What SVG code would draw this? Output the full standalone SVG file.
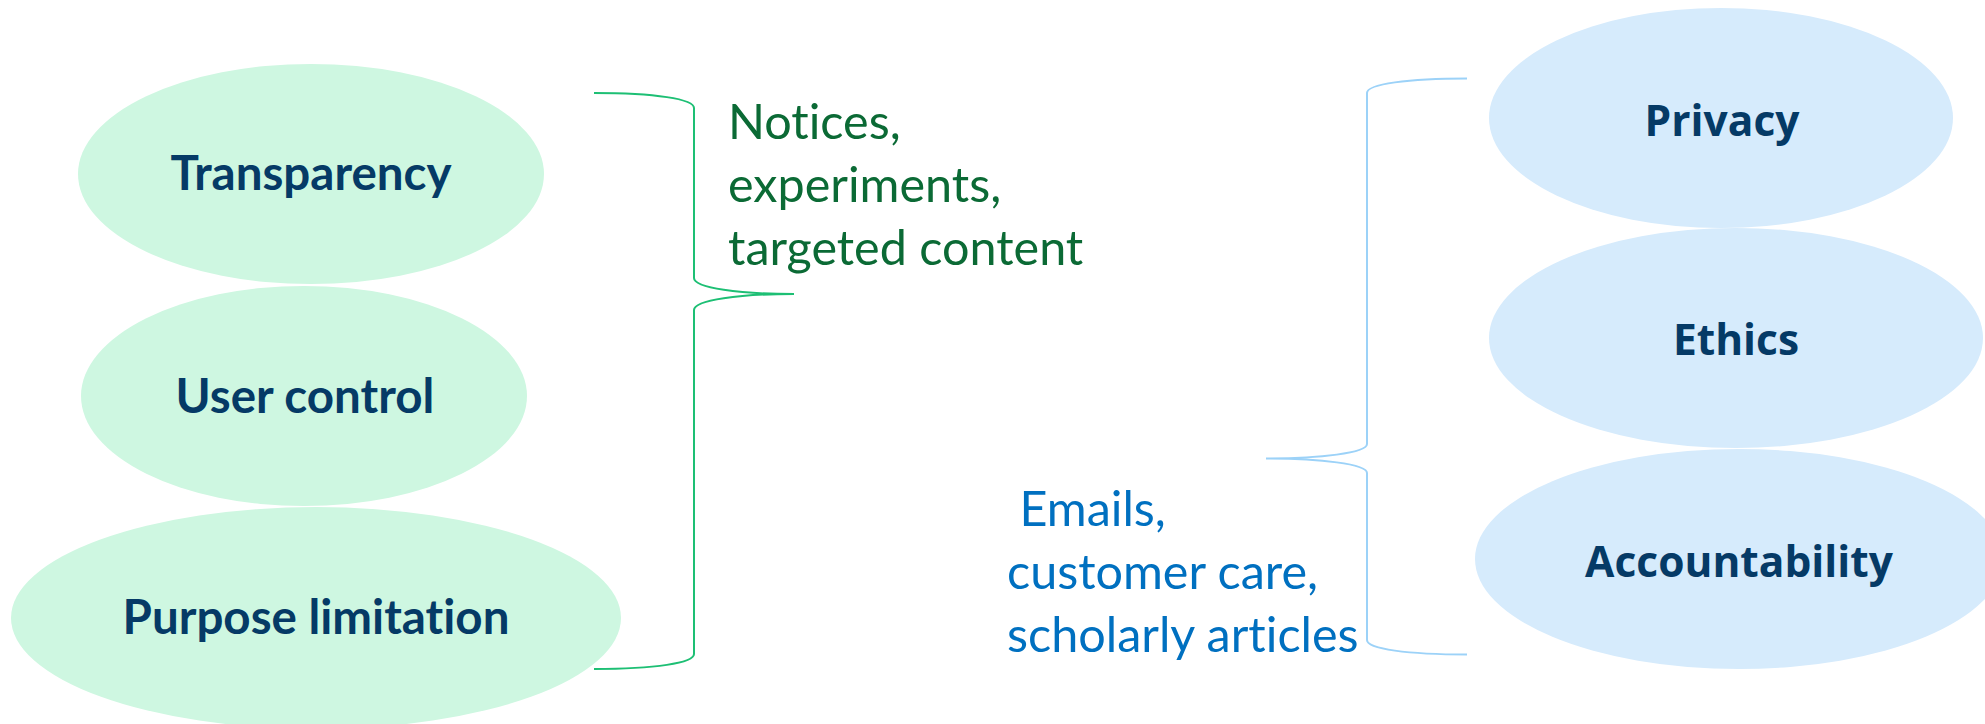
<svg xmlns="http://www.w3.org/2000/svg" width="1985" height="724" viewBox="0 0 1985 724">
  <style>
    text { font-variant-ligatures: none; font-feature-settings: "liga" 0, "clig" 0; }
    .goal-green { fill: #CEF7E1; }
    .goal-blue { fill: #D6EBFC; }
    .lbl-left { font-family: "Lato", "Liberation Sans", sans-serif; font-weight: 700; font-size: 47.5px; fill: #053A66; text-anchor: middle; }
    .lbl-right { font-family: "Open Sans", "Noto Sans", sans-serif; font-weight: 700; font-size: 42.5px; fill: #053A66; text-anchor: middle; }
    .note { font-family: "Lato", "Liberation Sans", sans-serif; font-size: 48.5px; }
    .note-green { fill: #0B6A35; }
    .note-blue { fill: #0070C0; }
    .brace { fill: none; stroke-width: 2; }
    .brace-green { stroke: #1DBF74; }
    .brace-blue { stroke: #9CD2F8; }
  </style>
  <rect width="1985" height="724" fill="#FFFFFF"/>

  <!-- left column: user-facing principles -->
  <g id="node-transparency">
    <ellipse class="goal-green" cx="311" cy="174" rx="233" ry="110"/>
    <text class="lbl-left" x="311" y="190">Transparency</text>
  </g>
  <g id="node-user-control">
    <ellipse class="goal-green" cx="304" cy="396" rx="223" ry="110"/>
    <text class="lbl-left" x="305" y="413">User control</text>
  </g>
  <g id="node-purpose-limitation">
    <ellipse class="goal-green" cx="316" cy="618" rx="305" ry="111"/>
    <text class="lbl-left" x="316" y="634">Purpose limitation</text>
  </g>

  <!-- right column: organisational principles -->
  <g id="node-privacy">
    <ellipse class="goal-blue" cx="1721" cy="118" rx="232" ry="110"/>
    <text class="lbl-right" x="1722" y="136">Privacy</text>
  </g>
  <g id="node-ethics">
    <ellipse class="goal-blue" cx="1736" cy="338" rx="247" ry="110"/>
    <text class="lbl-right" x="1736" y="355">Ethics</text>
  </g>
  <g id="node-accountability">
    <ellipse class="goal-blue" cx="1739" cy="559" rx="264" ry="110"/>
    <text class="lbl-right" x="1739" y="577">Accountability</text>
  </g>

  <!-- braces grouping each column -->
  <g id="connectors">
    <path class="brace brace-green" d="M594,93 C655,93 694,99 694,108 L694,278 C694,288 740,294 794,294 C740,294 694,300 694,310 L694,654 C694,663 655,669 594,669"/>
    <path class="brace brace-blue" d="M1467,78.5 C1408,78.5 1367,84 1367,93 L1367,444 C1367,453 1320,458.5 1266,458.5 C1320,458.5 1367,464 1367,473 L1367,640 C1367,649 1408,654.5 1467,654.5"/>
  </g>

  <!-- example notes -->
  <g id="note-left">
    <text class="note note-green" x="728" y="139">Notices,</text>
    <text class="note note-green" x="728" y="202">experiments,</text>
    <text class="note note-green" x="728" y="265">targeted content</text>
  </g>
  <g id="note-right">
    <text class="note note-blue" x="1007" y="526" xml:space="preserve"> Emails,</text>
    <text class="note note-blue" x="1007" y="589">customer care,</text>
    <text class="note note-blue" x="1007" y="652">scholarly articles</text>
  </g>
</svg>
